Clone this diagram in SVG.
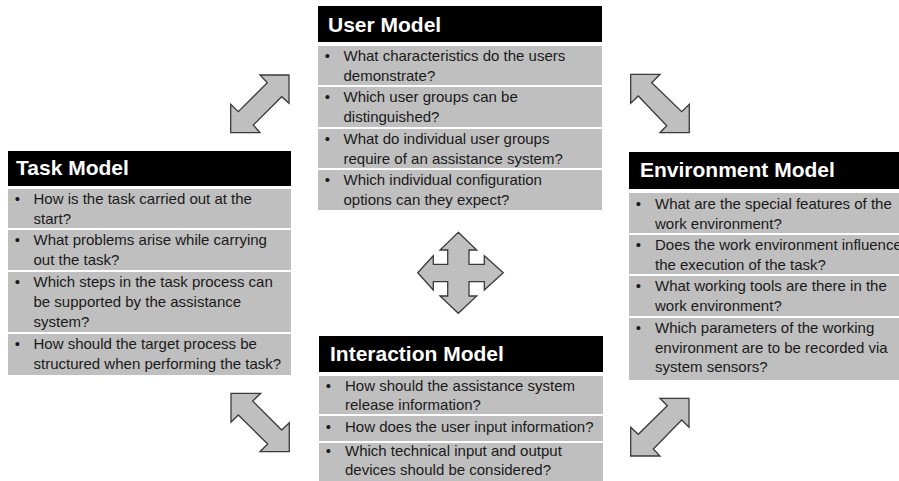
<svg xmlns="http://www.w3.org/2000/svg" width="899" height="481" viewBox="0 0 899 481">
  <style>
    .bg { fill: #ffffff; }
    .head { fill: #000000; }
    .row { fill: #bfbfbf; }
    .title { font-family: "Liberation Sans", Arial, sans-serif; font-weight: bold; font-size: 21px; fill: #ffffff; }
    .txt { font-family: "Liberation Sans", Arial, sans-serif; font-size: 15px; fill: #1a1a1a; }
    .dot { font-family: "Liberation Sans", Arial, sans-serif; font-size: 15px; fill: #1a1a1a; text-anchor: middle; }
    .arrow { fill: #bfbfbf; stroke: #3a3a3a; stroke-width: 1.3; stroke-linejoin: miter; }
  </style>
  <rect class="bg" x="0" y="0" width="899" height="481"/>

  <!-- double-headed arrows between the models and the four-way arrow in the middle -->
  <g id="connectors">
    <polygon class="arrow" points="289,75 289,103.3 281.7,96.7 253.3,125 260,132.7 230.7,132.7 230.7,104.3 238.3,111.7 267.3,82.7 260,75"/>
    <polygon class="arrow" points="630.7,74.3 660,74.3 651.7,82.7 681.7,111.7 689.3,104.3 689.3,132.7 660,132.7 666.7,125.7 638.3,96 630.7,103.3"/>
    <polygon class="arrow" points="231,393.3 260.7,393.3 252.7,401 281.7,430 289.3,422.7 289.3,451.7 260,451.7 267.7,444 238.3,415 231,422.3"/>
    <polygon class="arrow" points="689,398.3 689,427.3 681.7,420 653.3,449 660,456 630.7,456 630.7,427.3 638.3,434.3 667.3,405.7 660,398.3"/>
    <polygon class="arrow" points="458.3,232.3 476.7,250 469,250 469,264.3 484.3,264.3 484.3,255.7 503.3,272.7 484.3,290 484.3,281.7 469,281.7 469,296 476.7,296 458.3,313.3 440,296 447.7,296 447.7,281.7 433.3,281.7 433.3,290 417.7,272.7 433.3,255.7 433.3,264.3 447.7,264.3 447.7,250 440,250"/>
  </g>

  <!-- User Model -->
  <g id="user-model">
    <rect class="head" x="318" y="6" width="284" height="36"/>
    <text class="title" x="328" y="32">User Model</text>
    <rect class="row" x="318" y="46" width="284" height="39"/>
    <rect class="row" x="318" y="87" width="284" height="40"/>
    <rect class="row" x="318" y="129" width="284" height="39"/>
    <rect class="row" x="318" y="170" width="284" height="40"/>
    <text class="dot" x="327.5" y="60.5">•</text>
    <text class="txt" x="343.5" y="60.5">What characteristics do the users</text>
    <text class="txt" x="343.5" y="80.5">demonstrate?</text>
    <text class="dot" x="327.5" y="101.5">•</text>
    <text class="txt" x="343.5" y="101.5">Which user groups can be</text>
    <text class="txt" x="343.5" y="121.5">distinguished?</text>
    <text class="dot" x="327.5" y="143.5">•</text>
    <text class="txt" x="343.5" y="143.5">What do individual user groups</text>
    <text class="txt" x="343.5" y="163.5">require of an assistance system?</text>
    <text class="dot" x="327.5" y="184.5">•</text>
    <text class="txt" x="343.5" y="184.5">Which individual configuration</text>
    <text class="txt" x="343.5" y="204.5">options can they expect?</text>
  </g>

  <!-- Task Model -->
  <g id="task-model">
    <rect class="head" x="8" y="151" width="283" height="35"/>
    <text class="title" x="16" y="175">Task Model</text>
    <rect class="row" x="8" y="189" width="283" height="39"/>
    <rect class="row" x="8" y="230" width="283" height="40"/>
    <rect class="row" x="8" y="272" width="283" height="60"/>
    <rect class="row" x="8" y="334" width="283" height="41"/>
    <text class="dot" x="17.5" y="204">•</text>
    <text class="txt" x="33.5" y="204">How is the task carried out at the</text>
    <text class="txt" x="33.5" y="224">start?</text>
    <text class="dot" x="17.5" y="245">•</text>
    <text class="txt" x="33.5" y="245">What problems arise while carrying</text>
    <text class="txt" x="33.5" y="265">out the task?</text>
    <text class="dot" x="17.5" y="287">•</text>
    <text class="txt" x="33.5" y="287">Which steps in the task process can</text>
    <text class="txt" x="33.5" y="307">be supported by the assistance</text>
    <text class="txt" x="33.5" y="327">system?</text>
    <text class="dot" x="17.5" y="349">•</text>
    <text class="txt" x="33.5" y="349">How should the target process be</text>
    <text class="txt" x="33.5" y="369">structured when performing the task?</text>
  </g>

  <!-- Environment Model -->
  <g id="environment-model">
    <rect class="head" x="629" y="152" width="275" height="37"/>
    <text class="title" x="640" y="177">Environment Model</text>
    <rect class="row" x="629" y="193" width="275" height="40"/>
    <rect class="row" x="629" y="235" width="275" height="39"/>
    <rect class="row" x="629" y="276" width="275" height="40"/>
    <rect class="row" x="629" y="318" width="275" height="62"/>
    <text class="dot" x="638.5" y="209">•</text>
    <text class="txt" x="655" y="209">What are the special features of the</text>
    <text class="txt" x="655" y="228.5">work environment?</text>
    <text class="dot" x="638.5" y="250">•</text>
    <text class="txt" x="655" y="250">Does the work environment influence</text>
    <text class="txt" x="655" y="269.5">the execution of the task?</text>
    <text class="dot" x="638.5" y="291">•</text>
    <text class="txt" x="655" y="291">What working tools are there in the</text>
    <text class="txt" x="655" y="310.5">work environment?</text>
    <text class="dot" x="638.5" y="333">•</text>
    <text class="txt" x="655" y="333">Which parameters of the working</text>
    <text class="txt" x="655" y="352.5">environment are to be recorded via</text>
    <text class="txt" x="655" y="372">system sensors?</text>
  </g>

  <!-- Interaction Model -->
  <g id="interaction-model">
    <rect class="head" x="319" y="336" width="284" height="36"/>
    <text class="title" x="330" y="361">Interaction Model</text>
    <rect class="row" x="319" y="376" width="284" height="38"/>
    <rect class="row" x="319" y="416" width="284" height="25"/>
    <rect class="row" x="319" y="443" width="284" height="42"/>
    <text class="dot" x="328.5" y="390.5">•</text>
    <text class="txt" x="345" y="390.5">How should the assistance system</text>
    <text class="txt" x="345" y="410">release information?</text>
    <text class="dot" x="328.5" y="432">•</text>
    <text class="txt" x="345" y="432">How does the user input information?</text>
    <text class="dot" x="328.5" y="455.5">•</text>
    <text class="txt" x="345" y="455.5">Which technical input and output</text>
    <text class="txt" x="345" y="475">devices should be considered?</text>
  </g>
</svg>
